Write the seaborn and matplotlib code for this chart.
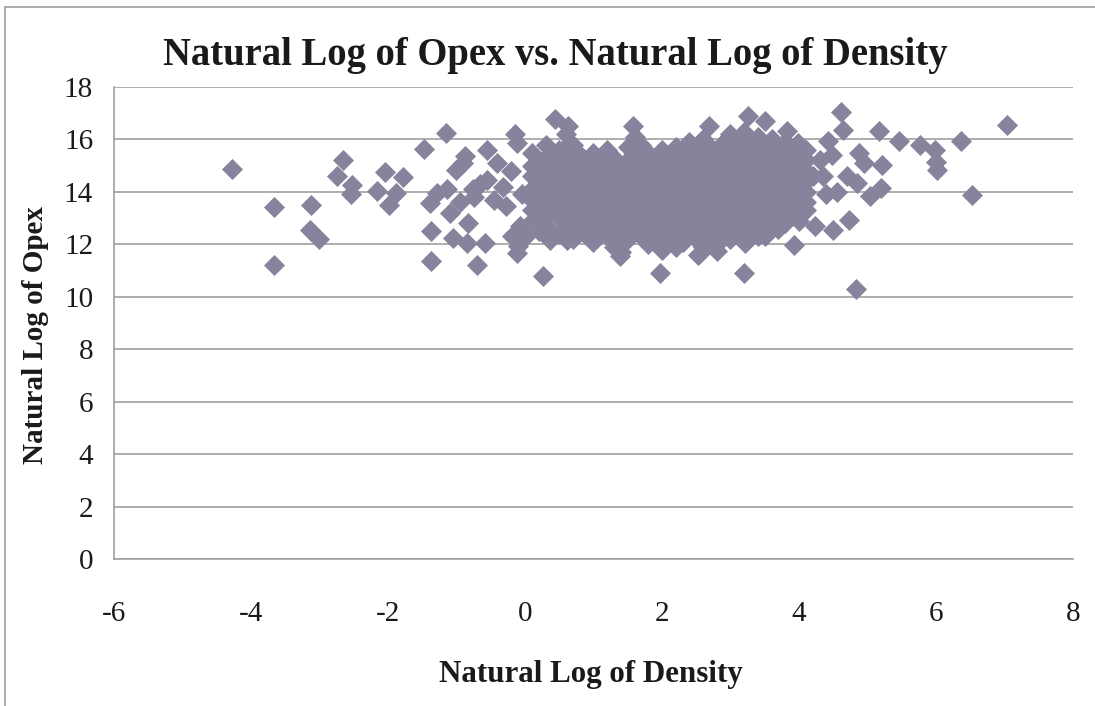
import matplotlib
matplotlib.use("Agg")
import matplotlib.pyplot as plt
from matplotlib.lines import Line2D
import seaborn as sns
import pandas as pd

# points: left tail, right tail, sparse mid outliers
left_density = [-4.28, -3.67, -3.67, -3.12, -3.14, -3.0, -2.65, -2.74, -2.53, -2.54,
                -2.04, -1.78, -2.16, -1.89, -1.98, -1.48, -1.16, -1.38, -1.37, -1.37,
                -1.28, -1.1, -1.05, -0.85, -0.83, -0.7, -0.58, -0.88, -0.56, -1.0,
                -1.14, -0.76, -0.56, -0.95, -0.9, -0.75, -0.65, -0.41, -0.32, -0.27,
                -0.12, -0.07, -0.19, 0.02, -0.12, -0.1, -0.45, -0.2, -0.05, -0.15]
left_opex = [14.87, 13.42, 11.22, 13.51, 12.53, 12.2, 15.2, 14.59, 14.27, 13.93,
             14.74, 14.57, 14.05, 13.96, 13.51, 15.64, 16.25, 13.58, 12.52, 11.37,
             13.97, 13.2, 12.24, 12.05, 12.81, 11.22, 12.05, 15.35, 15.6, 14.85,
             14.1, 14.1, 14.47, 13.6, 15.1, 13.8, 14.3, 15.1, 14.2, 13.45,
             15.87, 12.68, 12.3, 12.3, 11.67, 11.95, 13.7, 14.8, 13.9, 16.2]

right_density = [4.62, 7.03, 5.17, 5.46, 5.76, 6.36, 5.99, 6.0, 6.01, 6.52,
                 5.21, 5.19, 5.04, 4.83, 3.92, 4.73, 4.5, 4.23, 4.64, 4.42,
                 4.48, 4.88, 4.84, 4.55, 4.7, 4.95, 4.35, 4.4, 4.3, 4.2]
right_opex = [17.05, 16.56, 16.34, 15.95, 15.8, 15.95, 15.6, 15.13, 14.82, 13.89,
              15.04, 14.15, 13.83, 10.3, 11.98, 12.91, 12.53, 12.68, 16.37, 15.93,
              15.42, 15.48, 14.34, 14.0, 14.6, 15.1, 14.6, 13.9, 15.2, 14.6]

mid_density = [0.27, 1.97, 3.19, 1.39, 2.8, 2.53, 3.21, 0.44, 0.63, 1.58,
               2.69, 3.26, 3.5, 3.82, 3.99, 3.5, 2.55, 0.36, 0.61]
mid_opex = [10.78, 10.9, 10.9, 11.54, 11.73, 11.6, 12.05, 16.76, 16.5, 16.5,
            16.5, 16.88, 16.7, 16.31, 15.87, 12.3, 11.67, 12.17, 12.17]

# dense core, one column of opex values per density value
core_density = [0.1, 0.2, 0.3, 0.4, 0.5, 0.6, 0.7, 0.8, 0.9, 1.0, 1.1, 1.2, 1.3, 1.4,
                1.5, 1.6, 1.7, 1.8, 1.9, 2.0, 2.1, 2.2, 2.3, 2.4, 2.5, 2.6, 2.7, 2.8,
                2.9, 3.0, 3.1, 3.2, 3.3, 3.4, 3.5, 3.6, 3.7, 3.8, 3.9, 4.0, 4.1]
core_opex = [
    [15.5, 15.0, 14.6, 14.1, 13.7, 13.3, 12.9],
    [15.1, 14.7, 14.2, 13.8, 13.3, 12.5],
    [15.8, 15.3, 14.9, 14.4, 14.0, 13.5, 13.1, 12.7],
    [15.3, 14.8, 14.4, 14.0, 13.6, 12.3],
    [15.6, 15.2, 14.8, 14.3, 13.9, 13.4, 13.0, 12.4],
    [16.2, 15.7, 15.2, 14.7, 14.3, 13.8, 13.4, 13.0, 12.6],
    [15.8, 15.3, 14.7, 14.2, 13.8, 13.3, 12.9, 12.5, 12.2],
    [15.4, 14.9, 14.4, 13.9, 13.3, 12.9, 12.5],
    [15.0, 14.5, 14.1, 13.6, 13.2, 12.8, 12.3],
    [15.5, 15.1, 14.7, 14.3, 13.9, 13.4, 13.0, 12.5, 12.1],
    [15.2, 14.7, 14.3, 13.8, 13.4, 13.0, 12.6],
    [15.6, 15.2, 14.8, 14.4, 14.0, 13.5, 13.1, 12.7, 12.3],
    [15.3, 14.9, 14.5, 14.1, 13.7, 13.2, 12.8, 12.3, 11.9],
    [15.0, 14.6, 14.1, 13.7, 13.3, 12.8, 12.4, 11.7],
    [15.7, 15.2, 14.7, 14.3, 13.9, 13.4, 13.0, 12.6, 12.2],
    [16.1, 15.7, 15.3, 14.8, 14.4, 14.0, 13.5, 13.1, 12.6],
    [15.8, 15.3, 14.9, 14.5, 14.0, 13.6, 13.1, 12.7, 12.3],
    [15.5, 15.0, 14.6, 14.2, 13.7, 13.3, 12.8, 12.4, 12.0],
    [15.1, 14.7, 14.2, 13.8, 13.3, 12.9, 12.5],
    [15.6, 15.2, 14.8, 14.3, 13.9, 13.5, 13.0, 12.6, 12.2, 11.8],
    [15.3, 14.9, 14.4, 14.0, 13.5, 13.1, 12.7, 12.3],
    [15.7, 15.3, 14.9, 14.5, 14.1, 13.6, 13.2, 12.8, 12.4, 11.9],
    [15.4, 15.0, 14.6, 14.1, 13.7, 13.3, 12.8, 12.4, 12.1],
    [15.9, 15.4, 15.0, 14.6, 14.2, 13.8, 13.4, 12.9, 12.5],
    [15.5, 15.1, 14.7, 14.2, 13.8, 13.4, 13.0, 12.6, 12.2],
    [16.0, 15.6, 15.2, 14.8, 14.4, 13.9, 13.5, 13.1, 12.7, 12.3, 11.9],
    [15.7, 15.3, 14.9, 14.4, 14.0, 13.6, 13.1, 12.8, 12.4],
    [15.4, 14.9, 14.5, 14.1, 13.7, 13.3, 12.9, 12.4, 12.0],
    [15.9, 15.5, 15.1, 14.6, 14.2, 13.8, 13.3, 12.9, 12.5],
    [16.2, 15.8, 15.5, 15.1, 14.7, 14.2, 13.8, 13.4, 13.0, 12.6, 12.2],
    [15.8, 15.4, 15.0, 14.6, 14.3, 13.9, 13.5, 13.1, 12.7],
    [16.3, 15.8, 15.4, 15.0, 14.6, 14.2, 13.9, 13.5, 13.1, 12.7, 12.4],
    [15.9, 15.5, 15.1, 14.6, 14.2, 13.8, 13.4, 13.0, 12.6],
    [16.1, 15.8, 15.5, 15.1, 14.7, 14.2, 13.8, 13.4, 13.0, 12.6, 12.3],
    [15.8, 15.4, 15.0, 14.6, 14.3, 13.9, 13.5, 13.1, 12.7],
    [16.0, 15.6, 15.3, 14.9, 14.5, 14.1, 13.7, 13.3, 12.9],
    [15.6, 15.2, 14.9, 14.5, 14.1, 13.7, 13.3, 13.0, 12.6],
    [15.9, 15.5, 15.2, 14.8, 14.4, 14.0, 13.6, 13.2, 12.8],
    [15.5, 15.1, 14.7, 14.3, 13.9, 13.5, 13.2],
    [15.1, 14.7, 14.3, 13.9, 13.6, 13.2, 12.9],
    [15.6, 15.2, 14.8, 14.4, 14.0, 13.6, 13.3],
]

core_x = [x for x, col in zip(core_density, core_opex) for _ in col]
core_y = [y for col in core_opex for y in col]

df = pd.DataFrame({
    "density": left_density + core_x + mid_density + right_density,
    "opex": left_opex + core_y + mid_opex + right_opex,
})

sns.set_style("white")
plt.rcParams["font.family"] = ["Liberation Serif", "DejaVu Serif"]
plt.rcParams["axes.unicode_minus"] = False

fig = plt.figure(figsize=(10.95, 7.06), dpi=100)
ax = fig.add_axes([0.1041, 0.2082, 0.8758, 0.6686])

sns.scatterplot(
    data=df,
    x="density",
    y="opex",
    marker="D",
    s=115,
    color="#85849c",
    linewidth=0,
    ax=ax,
    zorder=3,
)

ax.set_xlim(-6, 8)
ax.set_ylim(0, 18)
ax.set_xticks(range(-6, 9, 2))
ax.set_yticks(range(0, 19, 2))
ax.yaxis.grid(True, color="#a0a0a0", linewidth=1.2)
ax.xaxis.grid(False)
for side in ["top", "right"]:
    ax.spines[side].set_visible(False)
for side in ["left", "bottom"]:
    ax.spines[side].set_color("#a0a0a0")
    ax.spines[side].set_linewidth(1.2)
ax.tick_params(axis="both", direction="out", length=7, width=1.2, color="#a0a0a0",
               labelsize=21, labelcolor="#1a1a1a")
ax.tick_params(axis="x", pad=23)
ax.tick_params(axis="y", pad=8)
ax.set_xlabel("")
ax.set_ylabel("")

fig.text(0.507, 0.922, "Natural Log of Opex vs. Natural Log of Density",
         ha="center", va="center", fontsize=27.8, fontweight="bold", color="#1a1a1a")
fig.text(0.54, 0.044, "Natural Log of Density", ha="center", va="center",
         fontsize=22.3, fontweight="bold", color="#1a1a1a")
fig.text(0.032, 0.525, "Natural Log of Opex", ha="center", va="center", rotation=90,
         fontsize=21, fontweight="bold", color="#1a1a1a")

# chart frame edges visible in the picture
fig.add_artist(Line2D([0.0048, 0.0048], [0.0, 0.9898], color="#a0a0a0", linewidth=1.2))
fig.add_artist(Line2D([0.0048, 1.0], [0.9898, 0.9898], color="#a0a0a0", linewidth=1.2))

fig.savefig("out.png", dpi=100)
